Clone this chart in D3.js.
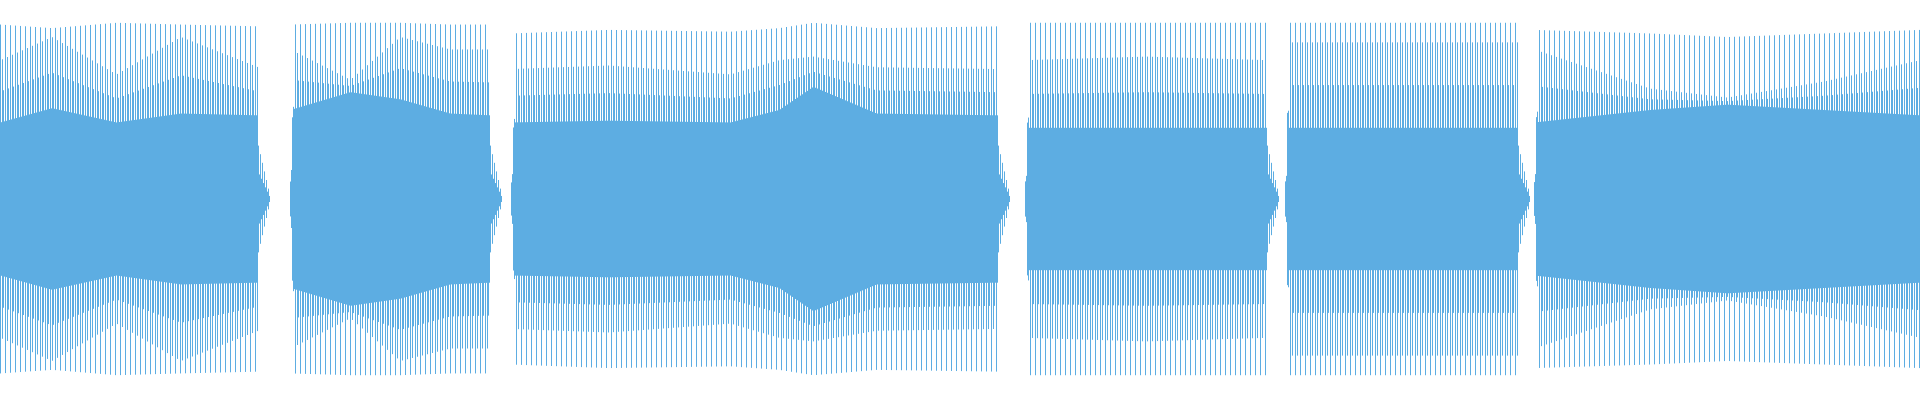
<!DOCTYPE html>
<html><head><meta charset="utf-8">
<script src="https://cdn.jsdelivr.net/npm/d3@7"></script>
<style>body{margin:0;background:#fff}</style></head>
<body><svg id="c" width="1920" height="400"></svg>
<script>
// segments of the waveform (sample-column units)
const segStart = [0, 290, 511, 1025, 1285, 1534];
const segEnd   = [258, 490, 998, 1267, 1518, 1920];
// envelope keypoints per segment: positions (fraction of segment), amplitudes (0..1)
const envPos = [
  [0, 0.2, 0.45, 0.7, 1],
  [0, 0.3, 0.55, 0.8, 1],
  [0, 0.2, 0.45, 0.55, 0.62, 0.75, 1],
  [0, 0.5, 1],
  [0, 0.5, 1],
  [0, 0.3, 0.5, 0.75, 1]
];
const fillAmp = [
  [0.43, 0.51, 0.43, 0.48, 0.47],
  [0.50, 0.60, 0.56, 0.48, 0.47],
  [0.43, 0.44, 0.43, 0.50, 0.63, 0.48, 0.47],
  [0.40, 0.40, 0.40],
  [0.40, 0.40, 0.40],
  [0.43, 0.50, 0.53, 0.50, 0.47]
];
const midAmp = [
  [0.78, 0.91, 0.70, 0.91, 0.74],
  [0.84, 0.67, 0.91, 0.84, 0.84],
  [0.73, 0.75, 0.70, 0.78, 0.80, 0.74, 0.73],
  [0.78, 0.80, 0.78],
  [0.88, 0.88, 0.88],
  [0.84, 0.62, 0.57, 0.66, 0.78]
];
const outerAmp = [
  [0.98, 0.96, 0.99, 0.98, 0.97],
  [0.98, 0.99, 0.99, 0.98, 0.98],
  [0.93, 0.95, 0.94, 0.96, 0.99, 0.96, 0.97],
  [0.99, 0.99, 0.99],
  [0.99, 0.99, 0.99],
  [0.95, 0.93, 0.91, 0.93, 0.95]
];
const tailLen = 12;

const svg = d3.select("#c");
const x = d3.scaleLinear().domain([0, 1920]).range([0, 1920]);
const y = d3.scaleLinear().domain([-1, 1]).range([377, 21]);
const cols = [];
segStart.forEach((s, i) => {
  const e = segEnd[i];
  const pos = envPos[i].map(p => s + p * (e - s));
  const fS = d3.scaleLinear().domain(pos).range(fillAmp[i]);
  const mS = d3.scaleLinear().domain(pos).range(midAmp[i]);
  const oS = d3.scaleLinear().domain(pos).range(outerAmp[i]);
  const ramp = d3.scaleLinear().domain([s, s + 4]).range([0.1, 1]).clamp(true);
  for (let c = s; c < e; c++) {
    const k = (c - s) % 5;
    let a = k === 0 ? oS(c) : k === 2 ? mS(c) : k === 3 ? (mS(c) + fS(c)) / 2 : fS(c);
    if (i > 0) a *= ramp(c);
    cols.push({c, a});
  }
  if (e < 1920) {
    const fade = d3.scaleLinear().domain([e, e + tailLen]).range([0.3, 0.01]);
    for (let c = e; c < e + tailLen; c++) {
      const f = fade(c) * ((c - e) % 2 ? 0.5 : 1);
      cols.push({c, a: f});
    }
  }
});
svg.append("g").selectAll("line").data(cols).join("line")
  .attr("x1", d => x(d.c) + 0.5).attr("x2", d => x(d.c) + 0.5)
  .attr("y1", d => y(d.a)).attr("y2", d => y(-d.a))
  .attr("stroke", "#5dade2").attr("stroke-width", 1);
</script></body></html>
